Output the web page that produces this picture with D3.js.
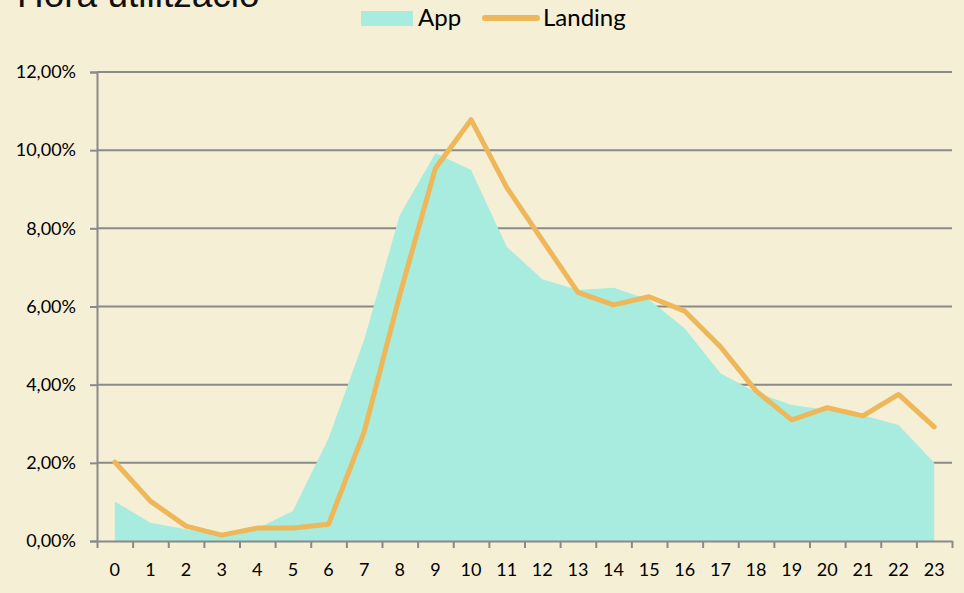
<!DOCTYPE html>
<html>
<head>
<meta charset="utf-8">
<script src="https://cdn.jsdelivr.net/npm/d3@7"></script>
<style>
  html, body { margin: 0; padding: 0; background: #f5efd5; overflow: hidden; }
  svg { display: block; }
</style>
</head>
<body>
<script>
// hours of the day
let hours = d3.range(0, 24);
// share of use per hour (%)
let appValues = [1.01, 0.47, 0.30, 0.13, 0.32, 0.77, 2.63, 5.15, 8.34, 9.92, 9.49, 7.53,
                 6.70, 6.42, 6.48, 6.17, 5.44, 4.29, 3.80, 3.48, 3.35, 3.22, 2.97, 2.00];
let landingValues = [2.02, 1.02, 0.38, 0.15, 0.33, 0.33, 0.43, 2.79, 6.30, 9.54, 10.78, 9.05,
                     7.70, 6.36, 6.04, 6.25, 5.88, 4.97, 3.84, 3.10, 3.41, 3.20, 3.75, 2.92];
let yTicks = [0, 2, 4, 6, 8, 10, 12];
let seriesNames = ["App", "Landing"];

function main() {
    let width = 964, height = 593;
    let left = 97, right = 952, top = 72, bottom = 541;

    let svg = d3.select("body").append("svg")
        .attr("width", width)
        .attr("height", height);

    svg.append("rect")
        .attr("width", width).attr("height", height)
        .attr("fill", "#f5efd5");

    let x = d3.scaleLinear().domain([-0.5, 23.5]).range([left, right]);
    let y = d3.scaleLinear().domain([0, 12]).range([bottom, top]);

    let fmt = v => d3.format(".2f")(v).replace(".", ",") + "%";

    // gridlines
    svg.append("g")
        .selectAll("line")
        .data(yTicks.filter(d => d > 0))
        .enter()
        .append("line")
        .attr("x1", left).attr("x2", right)
        .attr("y1", d => y(d)).attr("y2", d => y(d))
        .attr("stroke", "#8a8a8a")
        .attr("stroke-width", 2);

    // App area
    let area = d3.area()
        .x((d, i) => x(hours[i]))
        .y0(y(0))
        .y1(d => y(d));
    svg.append("path")
        .datum(appValues)
        .attr("d", area)
        .attr("fill", "#a8ebdf");

    // Landing line
    let line = d3.line()
        .x((d, i) => x(hours[i]))
        .y(d => y(d));
    svg.append("path")
        .datum(landingValues)
        .attr("d", line)
        .attr("fill", "none")
        .attr("stroke", "#eeb75a")
        .attr("stroke-width", 5)
        .attr("stroke-linejoin", "round")
        .attr("stroke-linecap", "round");

    // y axis
    let yAxis = svg.append("g")
        .attr("transform", "translate(" + left + ",0)")
        .call(d3.axisLeft(y).tickValues(yTicks).tickSize(7).tickPadding(14).tickFormat(fmt));
    yAxis.select(".domain").attr("stroke", "#8a8a8a").attr("stroke-width", 2);
    yAxis.selectAll(".tick line").attr("stroke", "#8a8a8a").attr("stroke-width", 2);
    yAxis.selectAll("text")
        .attr("font-family", "Lato, sans-serif")
        .attr("font-size", "18px")
        .attr("fill", "#000");

    // x axis: tick marks at category boundaries
    let xAxis = svg.append("g")
        .attr("transform", "translate(0," + bottom + ")")
        .call(d3.axisBottom(x).tickValues(d3.range(-0.5, 24, 1)).tickSize(7).tickSizeOuter(0).tickFormat(""));
    xAxis.select(".domain").attr("stroke", "#8a8a8a").attr("stroke-width", 2);
    xAxis.selectAll(".tick line").attr("stroke", "#8a8a8a").attr("stroke-width", 2);

    svg.append("g")
        .selectAll("text")
        .data(hours)
        .enter()
        .append("text")
        .attr("x", d => x(d))
        .attr("y", 576)
        .attr("text-anchor", "middle")
        .attr("font-family", "Lato, sans-serif")
        .attr("font-size", "18px")
        .attr("fill", "#000")
        .text(d => d);

    // title (cut at the top edge, as in the original)
    svg.append("text")
        .attr("x", 17)
        .attr("y", 7)
        .attr("font-family", "Liberation Sans, Arial, sans-serif")
        .attr("font-size", "37px")
        .attr("fill", "#111")
        .text("Hora utilització");

    // legend
    let legend = svg.append("g");
    legend.append("rect")
        .attr("x", 361).attr("y", 11)
        .attr("width", 52).attr("height", 15)
        .attr("fill", "#a8ebdf");
    legend.append("text")
        .attr("x", 418).attr("y", 26)
        .attr("font-family", "Lato, sans-serif")
        .attr("font-size", "24px")
        .attr("fill", "#000")
        .text(seriesNames[0]);
    legend.append("line")
        .attr("x1", 485).attr("x2", 537)
        .attr("y1", 18).attr("y2", 18)
        .attr("stroke", "#eeb75a")
        .attr("stroke-width", 6)
        .attr("stroke-linecap", "round");
    legend.append("text")
        .attr("x", 543).attr("y", 26)
        .attr("font-family", "Lato, sans-serif")
        .attr("font-size", "24px")
        .attr("fill", "#000")
        .text(seriesNames[1]);
}

main();
</script>
</body>
</html>
